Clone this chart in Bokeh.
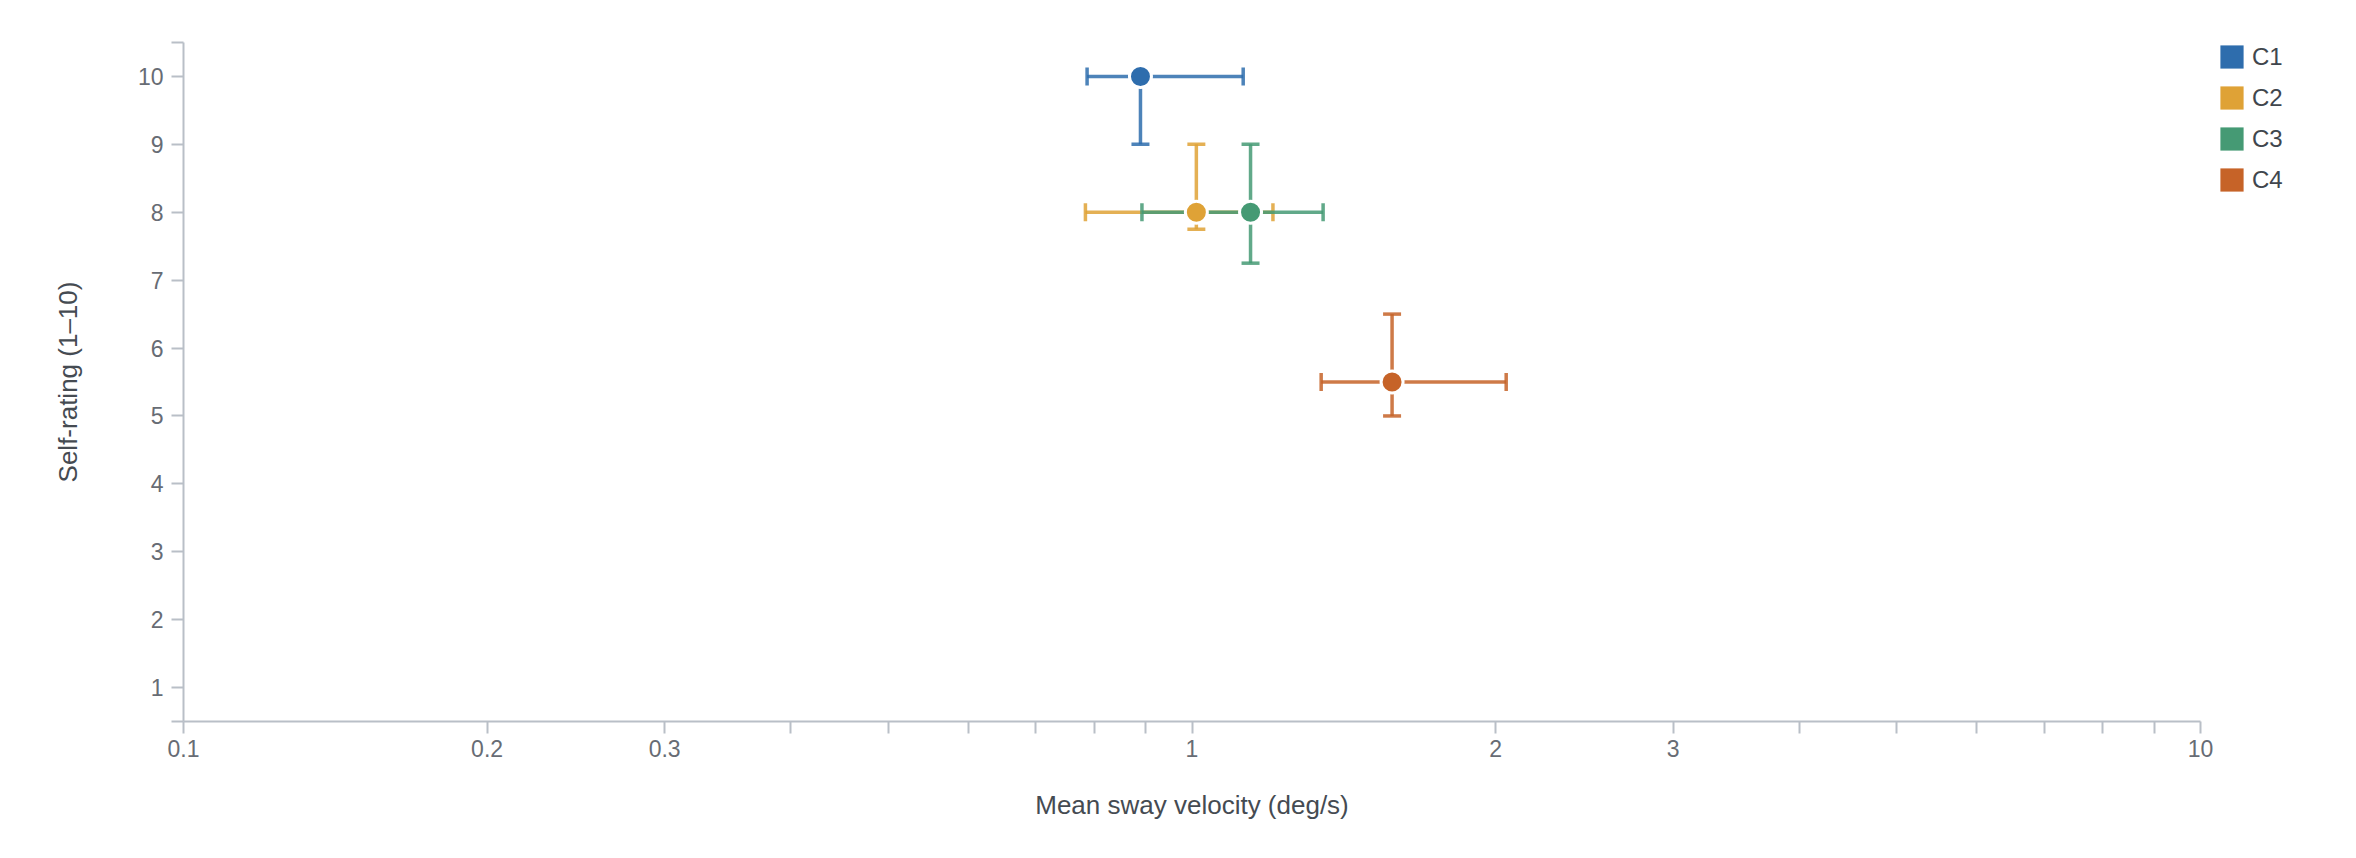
from bokeh.plotting import figure
from bokeh.layouts import row
from bokeh.models import (ColumnDataSource, Range1d, FixedTicker, CustomJSTickFormatter,
                          Whisker, TeeHead, Legend, LegendItem)
from bokeh.embed import file_html
from bokeh.resources import INLINE

# ---- data ----
categories = ["C1", "C2", "C3", "C4"]
sway_mean = [0.889, 1.01, 1.143, 1.579]
sway_low = [0.787, 0.784, 0.892, 1.343]
sway_high = [1.124, 1.203, 1.349, 2.049]
rating_mean = [10, 8, 8, 5.5]
rating_low = [9, 7.75, 7.25, 5]
rating_high = [10, 9, 9, 6.5]
colors = ["#2E6DAD", "#DFA236", "#459A74", "#C66328"]

x_tick_values = [0.1, 0.2, 0.3, 0.4, 0.5, 0.6, 0.7, 0.8, 0.9, 1, 2, 3, 4, 5, 6, 7, 8, 9, 10]
x_tick_labels = ["0.1", "0.2", "0.3", "", "", "", "", "", "", "1", "2", "3", "", "", "", "", "", "", "10"]
y_tick_values = [0.5, 1, 2, 3, 4, 5, 6, 7, 8, 9, 10, 10.5]
y_tick_labels = ["", "1", "2", "3", "4", "5", "6", "7", "8", "9", "10", ""]

x_title = "Mean sway velocity (deg/s)"
y_title = "Self-rating (1\u201310)"

FONT = "Liberation Sans"
AXIS_COLOR = "#b9bfc7"
TICK_TEXT = "#676c74"
TITLE_TEXT = "#454b52"

p = figure(width=2217, height=858, x_axis_type="log",
           x_range=Range1d(0.1, 10), y_range=Range1d(0.5, 10.5),
           output_backend="svg", toolbar_location=None,
           min_border_left=183, min_border_right=17,
           min_border_top=42, min_border_bottom=137)
p.outline_line_color = None
p.xgrid.visible = False
p.ygrid.visible = False
p.background_fill_color = "white"
p.border_fill_color = "white"

fmt_code = """
for (let i = 0; i < vals.length; i++) {
  if (Math.abs(tick - vals[i]) < 1e-9 * Math.max(1, Math.abs(vals[i]))) return labs[i];
}
return "";
"""
p.xaxis.ticker = FixedTicker(ticks=x_tick_values, minor_ticks=[])
p.xaxis.formatter = CustomJSTickFormatter(args=dict(vals=x_tick_values, labs=x_tick_labels), code=fmt_code)
p.yaxis.ticker = FixedTicker(ticks=y_tick_values, minor_ticks=[])
p.yaxis.formatter = CustomJSTickFormatter(args=dict(vals=y_tick_values, labs=y_tick_labels), code=fmt_code)

for ax in (p.xaxis[0], p.yaxis[0]):
    ax.axis_line_color = AXIS_COLOR
    ax.axis_line_width = 2
    ax.major_tick_line_color = AXIS_COLOR
    ax.major_tick_line_width = 2
    ax.major_tick_out = 12
    ax.major_tick_in = 0
    ax.minor_tick_line_color = None
    ax.major_label_text_font = FONT
    ax.major_label_text_font_size = "23px"
    ax.major_label_text_color = TICK_TEXT
    ax.axis_label_text_font = FONT
    ax.axis_label_text_font_size = "26px"
    ax.axis_label_text_font_style = "normal"
    ax.axis_label_text_color = TITLE_TEXT

p.xaxis.axis_label = x_title
p.yaxis.axis_label = y_title
p.xaxis.major_label_standoff = 6
p.xaxis.axis_label_standoff = 30
p.yaxis.major_label_standoff = 8
p.yaxis.axis_label_standoff = 52

for i, cat in enumerate(categories):
    src = ColumnDataSource(dict(
        x=[sway_mean[i]], y=[rating_mean[i]],
        xl=[sway_low[i]], xu=[sway_high[i]],
        yl=[rating_low[i]], yu=[rating_high[i]],
    ))
    c = colors[i]
    for base, lo, hi, dim in (("y", "xl", "xu", "width"), ("x", "yl", "yu", "height")):
        w = Whisker(source=src, base=base, lower=lo, upper=hi, dimension=dim,
                    line_color=c, line_width=3.5, line_alpha=0.85, level="underlay",
                    lower_head=TeeHead(size=18, line_color=c, line_width=3.5, line_alpha=0.85),
                    upper_head=TeeHead(size=18, line_color=c, line_width=3.5, line_alpha=0.85))
        p.add_layout(w)

for i, cat in enumerate(categories):
    src = ColumnDataSource(dict(x=[sway_mean[i]], y=[rating_mean[i]]))
    p.scatter(x="x", y="y", source=src, size=22, fill_color=colors[i],
              line_color="white", line_width=3)

# ---- legend panel (separate narrow figure at the right) ----
lp = figure(width=139, height=858, x_range=Range1d(0, 1), y_range=Range1d(0, 1),
            output_backend="svg", toolbar_location=None,
            x_axis_location=None, y_axis_location=None,
            min_border_left=0, min_border_right=0, min_border_top=38, min_border_bottom=0)
lp.outline_line_color = None
lp.xgrid.visible = False
lp.ygrid.visible = False
lp.background_fill_color = "white"
lp.border_fill_color = "white"

legend_items = []
for i, cat in enumerate(categories):
    src = ColumnDataSource(dict(x=[sway_mean[i]], y=[rating_mean[i]]))
    lr = lp.quad(left="x", right="x", bottom="y", top="y", source=src,
                 fill_color=colors[i], line_color=None, visible=False)
    legend_items.append(LegendItem(label=cat, renderers=[lr]))

legend = Legend(items=legend_items, location="top_left", orientation="vertical",
                glyph_width=29, glyph_height=29, label_height=29, spacing=12,
                label_standoff=6, padding=0, margin=0,
                border_line_color=None, background_fill_alpha=0,
                label_text_font=FONT, label_text_font_size="24px",
                label_text_color="#40464d", click_policy="none")
lp.add_layout(legend, "center")

layout = row(p, lp, spacing=0)
open("out.html", "w").write(file_html(layout, INLINE))
